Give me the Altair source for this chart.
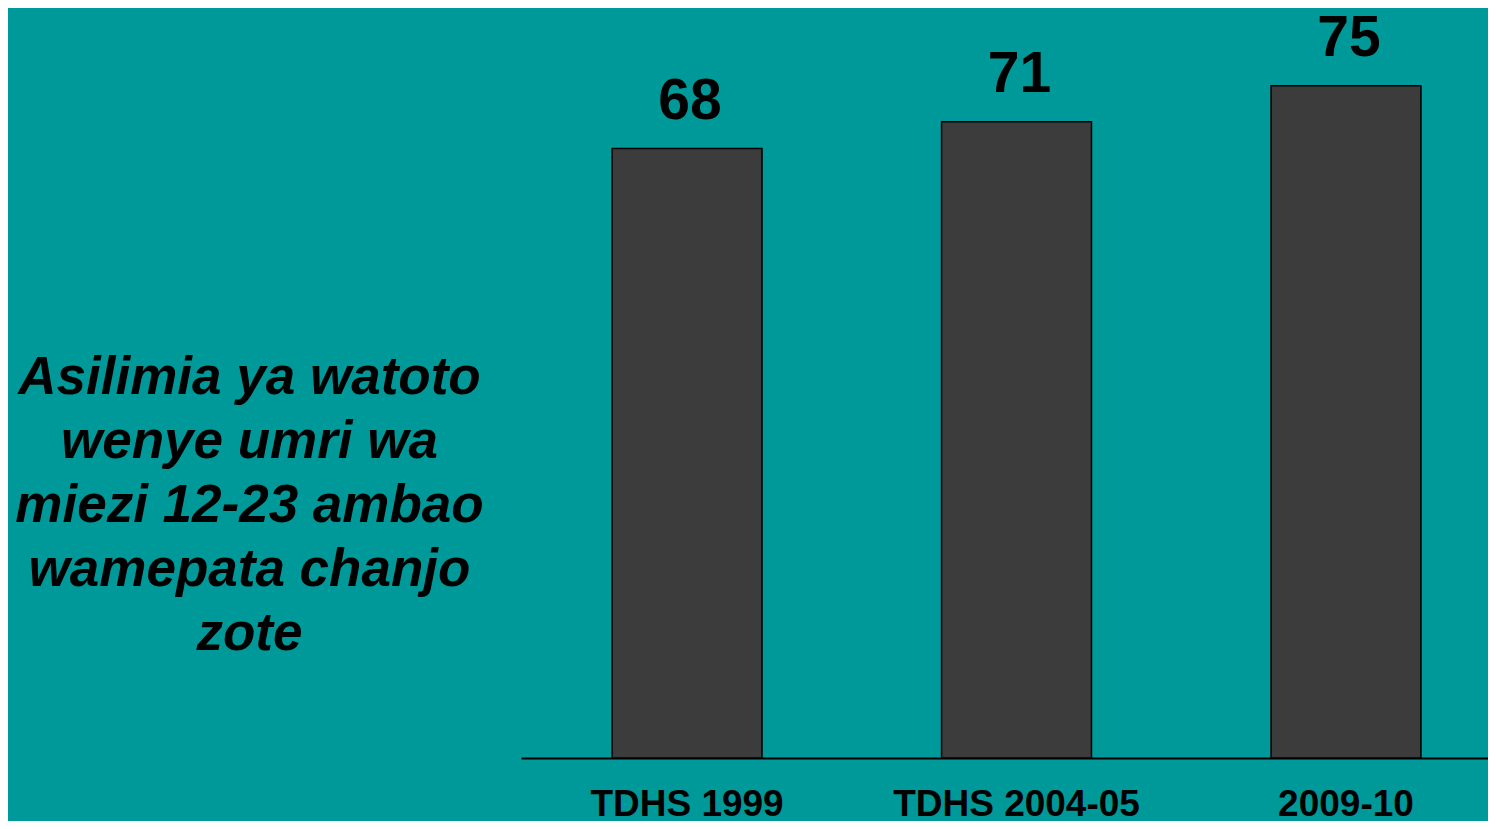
import altair as alt
import pandas as pd

categories = ["TDHS 1999", "TDHS 2004-05", "2009-10"]
values = [68, 71, 75]
side_text = ["Asilimia ya watoto", "wenye umri wa", "miezi 12-23 ambao", "wamepata chanjo", "zote"]

df = pd.DataFrame({"survey": categories, "pct": values})

FONT = "Liberation Sans"

base = alt.Chart(df).encode(
    x=alt.X(
        "survey:N",
        sort=categories,
        scale=alt.Scale(paddingInner=0.545, paddingOuter=0.24, align=0.576),
        axis=alt.Axis(
            title=None,
            labelAngle=0,
            labelFont=FONT,
            labelFontSize=37,
            labelFontWeight="bold",
            labelColor="black",
            labelPadding=28,
            labelLimit=0,
            ticks=False,
            tickSize=0,
            domain=True,
            domainColor="black",
            domainWidth=2,
            grid=False,
        ),
    ),
    y=alt.Y(
        "pct:Q",
        scale=alt.Scale(domain=[0, 80], nice=False),
        axis=alt.Axis(
            title=side_text,
            titleAngle=0,
            titleX=-272,
            titleY=352,
            titleAlign="center",
            titleBaseline="alphabetic",
            titleFont=FONT,
            titleFontSize=53,
            titleFontStyle="italic",
            titleFontWeight="bold",
            titleLineHeight=64,
            titleColor="black",
            titleLimit=0,
            domain=False,
            ticks=False,
            labels=False,
            grid=False,
        ),
    ),
)

bars = base.mark_bar(color="#3c3c3c", stroke="black", strokeWidth=1.5)
labels = base.mark_text(
    font=FONT, fontSize=57, fontWeight="bold", color="black",
    baseline="alphabetic", dy=-30, dx=3,
).encode(text="pct:Q")

chart = (
    (bars + labels)
    .properties(
        width=967,
        height=717,
        autosize=alt.AutoSizeParams(type="none"),
        padding={"left": 513, "top": 33, "right": 0, "bottom": 63},
        background="#009999",
    )
    .configure_view(stroke=None)
)

chart.save("out.html", embed_options={"renderer": "svg", "actions": False})
